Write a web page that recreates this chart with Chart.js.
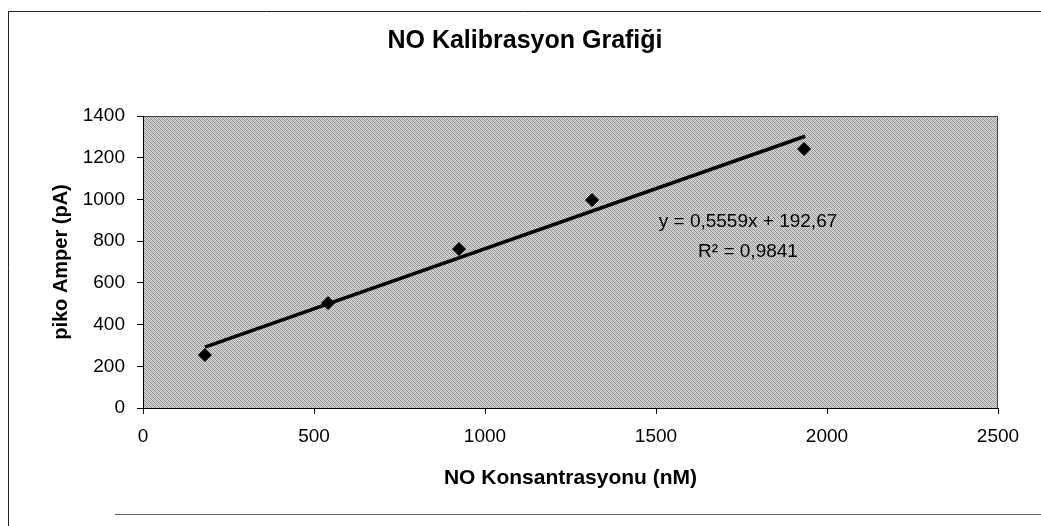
<!DOCTYPE html>
<html>
<head>
<meta charset="utf-8">
<script src="https://cdn.jsdelivr.net/npm/chart.js@4/dist/chart.umd.min.js"></script>
<style>
  html, body { margin: 0; padding: 0; background: #ffffff; }
  #wrap { width: 1041px; height: 526px; position: relative; }
</style>
</head>
<body>
<div id="wrap"><canvas id="c" width="1041" height="526"></canvas></div>
<script>
// ---- data ----
const concentrations = [181, 541, 924, 1313, 1933];   // NO Konsantrasyonu (nM)
const currents       = [254, 503, 762, 997, 1242];    // piko Amper (pA)
const trendX = [181, 1936];                            // trendline ends (x)
const trendY = [292, 1303];                            // trendline ends (y)
const xTicks = [0, 500, 1000, 1500, 2000, 2500];
const yTicks = [0, 200, 400, 600, 800, 1000, 1200, 1400];
const chartTitle = 'NO Kalibrasyon Grafiği';
const xTitle = 'NO Konsantrasyonu (nM)';
const yTitle = 'piko Amper (pA)';
const equationLines = ['y = 0,5559x + 192,67', 'R² = 0,9841'];
const equationAnchor = [1769, 892];   // data position of the equation label

const FONT = 'Arial, "Liberation Sans", Helvetica, sans-serif';

// dithered gray pattern for the plot area
function makePattern(ctx) {
  const p = document.createElement('canvas');
  p.width = 4; p.height = 4;
  const g = p.getContext('2d');
  const shades = [
    '#9a9a9a', '#d8d8d8', '#a8a8a8', '#e0e0e0',
    '#d0d0d0', '#808080', '#dcdcdc', '#b0b0b0',
    '#a4a4a4', '#e4e4e4', '#8c8c8c', '#d4d4d4',
    '#dadada', '#b4b4b4', '#d2d2d2', '#909090'
  ];
  for (let i = 0; i < 16; i++) {
    g.fillStyle = shades[i];
    g.fillRect(i % 4, Math.floor(i / 4), 1, 1);
  }
  return ctx.createPattern(p, 'repeat');
}

const decor = {
  id: 'decor',
  beforeDraw(chart) {
    const { ctx, chartArea: a } = chart;
    ctx.save();
    // outer frame
    ctx.strokeStyle = '#222';
    ctx.lineWidth = 1;
    ctx.beginPath();
    ctx.moveTo(8.5, 526); ctx.lineTo(8.5, 11.5); ctx.lineTo(1041, 11.5);
    ctx.stroke();
    ctx.strokeStyle = '#666';
    ctx.beginPath();
    ctx.moveTo(115, 514.5); ctx.lineTo(1041, 514.5);
    ctx.stroke();
    // plot background
    ctx.fillStyle = makePattern(ctx);
    ctx.fillRect(a.left, a.top, a.right - a.left, a.bottom - a.top);
    ctx.strokeStyle = '#444';
    ctx.strokeRect(a.left + 0.5, a.top + 0.5, a.right - a.left - 1, a.bottom - a.top);
    // title
    ctx.fillStyle = '#000';
    ctx.font = 'bold 25px ' + FONT;
    ctx.textAlign = 'center';
    ctx.textBaseline = 'middle';
    ctx.fillText(chartTitle, 525, 41);
    ctx.restore();
  },
  afterDatasetsDraw(chart) {
    const { ctx, scales } = chart;
    const x = scales.x.getPixelForValue(equationAnchor[0]);
    const y = scales.y.getPixelForValue(equationAnchor[1]);
    ctx.save();
    ctx.fillStyle = '#000';
    ctx.font = '19px ' + FONT;
    ctx.textAlign = 'center';
    ctx.textBaseline = 'middle';
    ctx.fillText(equationLines[0], x, y);
    ctx.fillText(equationLines[1], x, y + 30);
    ctx.restore();
  }
};

new Chart(document.getElementById('c'), {
  type: 'scatter',
  data: {
    datasets: [
      {
        label: 'Trend',
        type: 'line',
        data: trendX.map((v, i) => ({ x: v, y: trendY[i] })),
        borderColor: '#000',
        borderWidth: 3.5,
        pointRadius: 0,
        fill: false,
        order: 2
      },
      {
        label: 'Ölçüm',
        data: concentrations.map((v, i) => ({ x: v, y: currents[i] })),
        pointStyle: 'rectRot',
        pointRadius: 6.5,
        backgroundColor: '#000',
        borderColor: '#000',
        borderWidth: 1,
        order: 1
      }
    ]
  },
  options: {
    responsive: false,
    animation: false,
    layout: { padding: { left: 0, right: 43, top: 116, bottom: 0 } },
    plugins: {
      legend: { display: false },
      title: { display: false },
      tooltip: { enabled: false }
    },
    scales: {
      x: {
        type: 'linear',
        min: 0, max: 2500,
        afterBuildTicks(s) { s.ticks = xTicks.map(v => ({ value: v })); },
        afterFit(s) { s.height = 118; },
        grid: { drawOnChartArea: false, tickLength: 6, color: '#000' },
        border: { color: '#000', width: 1 },
        ticks: { color: '#000', font: { family: FONT, size: 19 }, padding: 11, maxRotation: 0,
                 callback: v => String(v) },
        title: { display: true, text: xTitle, color: '#000', font: { family: FONT, size: 21, weight: 'bold' }, padding: { top: 0, bottom: 35 } }
      },
      y: {
        type: 'linear',
        min: 0, max: 1400,
        afterBuildTicks(s) { s.ticks = yTicks.map(v => ({ value: v })); },
        afterFit(s) { s.width = 143; },
        grid: { drawOnChartArea: false, tickLength: 6, color: '#000' },
        border: { color: '#000', width: 1 },
        ticks: { color: '#000', font: { family: FONT, size: 19 }, padding: 12,
                 callback: v => String(v) },
        title: { display: true, text: yTitle, color: '#000', font: { family: FONT, size: 20, weight: 'bold' }, padding: { top: 49, bottom: 0 } }
      }
    }
  },
  plugins: [decor]
});
</script>
</body>
</html>
